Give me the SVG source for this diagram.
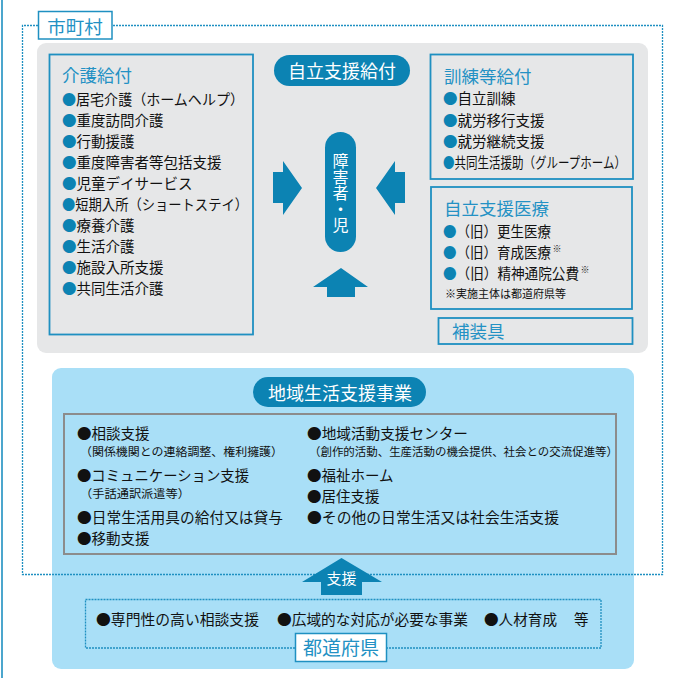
<svg xmlns="http://www.w3.org/2000/svg" width="676" height="678" viewBox="0 0 676 678">
<style>
text{font-family:"Noto Sans CJK JP","Noto Sans CJK SC",sans-serif;}
.box{fill:#e6e7e8;stroke:#1f90c1;stroke-width:1.8;}
.lbl{fill:#fff;stroke:#1f90c1;stroke-width:1.5;}
.ttl{fill:#2391c4;font-size:17.5px;}
.pill{fill:#0c83b3;}
.wt{fill:#fff;}
.it{fill:#111;font-size:14.5px;}
.sm{fill:#111;font-size:11.5px;}
.bl{fill:#0c83b3;}
.dot{fill:none;stroke:#1f90c1;stroke-width:1.3;stroke-dasharray:2 1;}
.arw{fill:#0c83b3;}
</style>
<line x1="2" y1="0" x2="2" y2="678" stroke="#1f90c1" stroke-width="1.6"/>

<g id="gray-panel"><rect x="37" y="43" width="611" height="310" rx="9" fill="#e6e7e8"/></g>
<g id="blue-panel"><rect x="52" y="368" width="582" height="301" rx="9" fill="#a9dff7"/></g>

<g id="connectors">
<path class="dot" d="M38 25.5H22.5V574.5H662.5V25.5H112"/>
<polygon class="arw" points="273,172 283,172 283,161 302,188 283,215 283,203 273,203"/>
<polygon class="arw" points="405,172 395,172 395,161 376,188 395,215 395,203 405,203"/>
<polygon class="arw" points="327,297 327,287 313,287 341,268 368,287 355,287 355,297"/>
<polygon class="arw" points="321,595 321,582 302,582 341.5,558 382,582 362,582 362,595"/>
<text class="wt" x="341.5" y="583.5" font-size="15" text-anchor="middle">支援</text>
</g>

<g id="municipality-label">
<rect class="lbl" x="38.5" y="11.5" width="73.5" height="27.5"/>
<text x="75" y="33.5" font-size="18.5" fill="#2391c4" text-anchor="middle">市町村</text>
</g>

<g id="kaigo">
<rect class="box" x="49.5" y="54.5" width="203.5" height="280"/>
<text class="ttl" x="62" y="82">介護給付</text>
<text class="it" x="62" y="105.3" textLength="182" lengthAdjust="spacingAndGlyphs"><tspan class="bl">●</tspan>居宅介護（ホームヘルプ）</text>
<text class="it" x="62" y="126.3"><tspan class="bl">●</tspan>重度訪問介護</text>
<text class="it" x="62" y="147.3"><tspan class="bl">●</tspan>行動援護</text>
<text class="it" x="62" y="167.8"><tspan class="bl">●</tspan>重度障害者等包括支援</text>
<text class="it" x="62" y="188.8"><tspan class="bl">●</tspan>児童デイサービス</text>
<text class="it" x="62" y="209.8" textLength="186" lengthAdjust="spacingAndGlyphs"><tspan class="bl">●</tspan>短期入所（ショートステイ）</text>
<text class="it" x="62" y="230.8"><tspan class="bl">●</tspan>療養介護</text>
<text class="it" x="62" y="251.8"><tspan class="bl">●</tspan>生活介護</text>
<text class="it" x="62" y="272.8"><tspan class="bl">●</tspan>施設入所支援</text>
<text class="it" x="62" y="293.8"><tspan class="bl">●</tspan>共同生活介護</text>
</g>

<g id="jiritsu-kyufu">
<rect class="pill" x="274" y="55" width="136" height="31" rx="15.5"/>
<text class="wt" x="342" y="77.5" font-size="18" text-anchor="middle">自立支援給付</text>
</g>

<g id="person">
<rect class="pill" x="325" y="132" width="31" height="120" rx="15.5"/>
<text class="wt" x="340.5" y="192.5" font-size="16" writing-mode="vertical-rl" text-anchor="middle">障害者・児</text>
</g>

<g id="kunren">
<rect class="box" x="430.5" y="54.5" width="202.5" height="124.5"/>
<text class="ttl" x="444" y="82.5">訓練等給付</text>
<text class="it" x="443" y="104.3"><tspan class="bl">●</tspan>自立訓練</text>
<text class="it" x="443" y="126.3"><tspan class="bl">●</tspan>就労移行支援</text>
<text class="it" x="443" y="147.3"><tspan class="bl">●</tspan>就労継続支援</text>
<text class="it" x="443" y="168.3" textLength="183" lengthAdjust="spacingAndGlyphs"><tspan class="bl">●</tspan>共同生活援助（グループホーム）</text>
</g>

<g id="iryo">
<rect class="box" x="431" y="187" width="201" height="122"/>
<text class="ttl" x="444" y="215">自立支援医療</text>
<text class="it" x="443" y="237.3" font-size="14" textLength="108" lengthAdjust="spacingAndGlyphs"><tspan class="bl">●</tspan>（旧）更生医療</text>
<text class="it" x="443" y="258.3" font-size="14" textLength="108" lengthAdjust="spacingAndGlyphs"><tspan class="bl">●</tspan>（旧）育成医療</text>
<text x="552.5" y="252" font-size="9" fill="#111">※</text>
<text class="it" x="443" y="279.3" font-size="14" textLength="136" lengthAdjust="spacingAndGlyphs"><tspan class="bl">●</tspan>（旧）精神通院公費</text>
<text x="580.5" y="273" font-size="9" fill="#111">※</text>
<text x="445" y="298" font-size="11" fill="#111">※実施主体は都道府県等</text>
</g>

<g id="hosougu">
<rect class="box" x="438.5" y="318" width="194" height="26"/>
<text class="ttl" x="452" y="337.5">補装具</text>
</g>

<g id="chiiki-title">
<rect class="pill" x="253" y="377" width="173" height="30" rx="15"/>
<text class="wt" x="340" y="399.5" font-size="18" text-anchor="middle">地域生活支援事業</text>
</g>

<g id="chiiki">
<rect x="64" y="414" width="552" height="140" fill="#a9dff7" stroke="#8c8c8c" stroke-width="2"/>
<text class="it" x="77" y="438.5">●相談支援</text>
<text class="sm" x="80" y="455.5" textLength="203" lengthAdjust="spacingAndGlyphs">（関係機関との連絡調整、権利擁護）</text>
<text class="it" x="77" y="480.5" textLength="172" lengthAdjust="spacingAndGlyphs">●コミュニケーション支援</text>
<text class="sm" x="80" y="497.5" textLength="110" lengthAdjust="spacingAndGlyphs">（手話通訳派遣等）</text>
<text class="it" x="77" y="522.5" textLength="206" lengthAdjust="spacingAndGlyphs">●日常生活用具の給付又は貸与</text>
<text class="it" x="77" y="543.5">●移動支援</text>
<text class="it" x="307" y="438.5" textLength="161" lengthAdjust="spacingAndGlyphs">●地域活動支援センター</text>
<text class="sm" x="309" y="455.5" textLength="309" lengthAdjust="spacingAndGlyphs">（創作的活動、生産活動の機会提供、社会との交流促進等）</text>
<text class="it" x="307" y="480.5">●福祉ホーム</text>
<text class="it" x="307" y="501.5">●居住支援</text>
<text class="it" x="307" y="522.5" textLength="252" lengthAdjust="spacingAndGlyphs">●その他の日常生活又は社会生活支援</text>
</g>

<g id="prefecture">
<rect class="dot" x="85.5" y="599.5" width="515.5" height="48.5"/>
<text class="it" x="96" y="624.5" textLength="163" lengthAdjust="spacingAndGlyphs">●専門性の高い相談支援</text>
<text class="it" x="277" y="624.5" textLength="191" lengthAdjust="spacingAndGlyphs">●広域的な対応が必要な事業</text>
<text class="it" x="484" y="624.5" textLength="73" lengthAdjust="spacingAndGlyphs">●人材育成</text>
<text class="it" x="574" y="624.5">等</text>
<rect class="lbl" x="295.5" y="633.5" width="91" height="28"/>
<text x="341" y="655" font-size="19" fill="#2391c4" text-anchor="middle">都道府県</text>
</g>
</svg>
